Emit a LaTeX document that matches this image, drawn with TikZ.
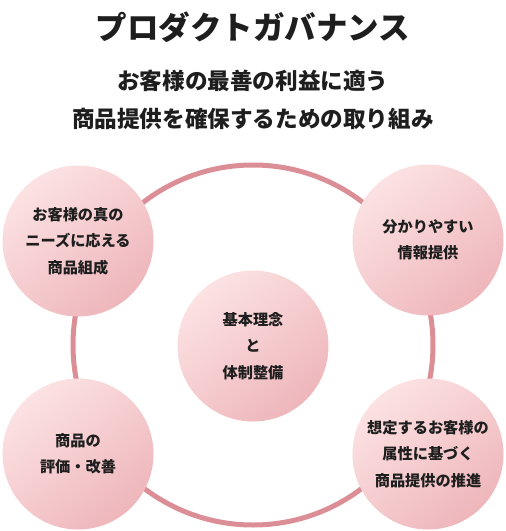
\documentclass[tikz,border=0pt]{standalone}
\usepackage{fontspec}
\setmainfont{Noto Sans CJK JP}
\definecolor{ringc}{RGB}{220,142,150}
\definecolor{lightp}{RGB}{252,226,227}
\definecolor{darkp}{RGB}{238,182,187}
\definecolor{txt}{RGB}{30,30,30}
\tikzset{
  ringbox/.style={circle, draw=ringc, line width=5pt, minimum size=360pt, inner sep=0pt},
  bubble/.style={circle, minimum size=151pt, inner sep=0pt, align=center,
    top color=lightp, bottom color=darkp, shading angle=40,
    text=txt, font=\fontsize{15.2}{26.5}\selectfont\bfseries},
  titlebox/.style={text=txt, font=\fontsize{31.5}{36}\selectfont\bfseries},
  subbox/.style={text=txt, align=center, font=\fontsize{22.6}{38}\selectfont\bfseries}
}
\begin{document}
\begin{tikzpicture}[x=1pt,y=-1pt]
\useasboundingbox (0,0) rectangle (506,531);
\node[titlebox] (title) at (253,27) {プロダクトガバナンス};
\node[subbox] (sub) at (253,100) {お客様の最善の利益に適う\\商品提供を確保するための取り組み};
\node[ringbox] (ring) at (253,345) {};
\node[bubble] (tl) at (78,241) {お客様の真の\\ニーズに応える\\商品組成};
\node[bubble] (tr) at (428,240) {分かりやすい\\情報提供};
\node[bubble] (c) at (253,346) {基本理念\\と\\体制整備};
\node[bubble] (bl) at (78,454) {商品の\\評価・改善};
\node[bubble] (br) at (428,454) {想定するお客様の\\属性に基づく\\商品提供の推進};
\end{tikzpicture}
\end{document}
